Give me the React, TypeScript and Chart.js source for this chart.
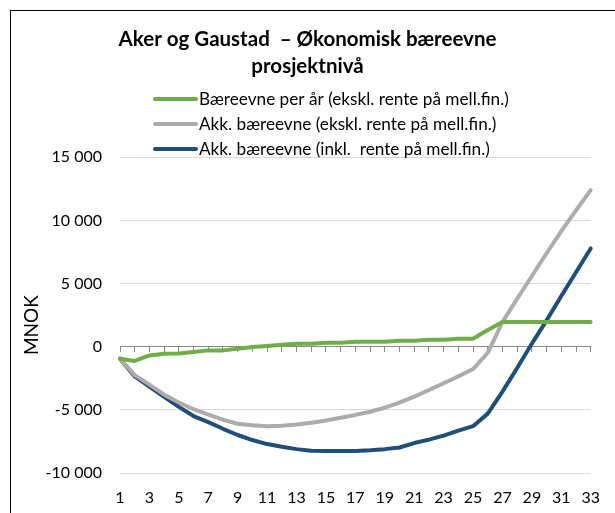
import React, { useEffect, useRef } from 'react';
import { Chart, registerables } from 'chart.js';

Chart.register(...registerables);

const FONT = 'Lato, "Open Sans", "DejaVu Sans", sans-serif';

const categories = ['1', '2', '3', '4', '5', '6', '7', '8', '9', '10', '11', '12', '13', '14', '15', '16', '17', '18', '19', '20', '21', '22', '23', '24', '25', '26', '27', '28', '29', '30', '31', '32', '33'];

const perYear = [-950, -1130, -690, -560, -530, -420, -290, -290, -160, -30, 50, 150, 240, 240, 320, 320, 400, 400, 400, 480, 480, 560, 560, 630, 630, 1330, 1960, 1960, 1960, 1960, 1960, 1960, 1960];

const accExcl = [-950, -2250, -3000, -3800, -4420, -4950, -5380, -5780, -6100, -6210, -6290, -6260, -6160, -6020, -5840, -5620, -5400, -5150, -4830, -4420, -3960, -3430, -2890, -2350, -1770, -480, 1950, 3800, 5600, 7400, 9150, 10800, 12400];

const accIncl = [-950, -2350, -3160, -3960, -4760, -5490, -5970, -6500, -6990, -7390, -7710, -7920, -8110, -8240, -8250, -8250, -8250, -8200, -8110, -7980, -7630, -7360, -7040, -6640, -6290, -5300, -3560, -1690, 250, 2090, 4010, 5900, 7780];

const seriesNames = [
  'Bæreevne per år (ekskl. rente på mell.fin.)',
  'Akk. bæreevne (ekskl. rente på mell.fin.)',
  'Akk. bæreevne (inkl.  rente på mell.fin.)',
];

const titleLines = ['Aker og Gaustad  – Økonomisk bæreevne', 'prosjektnivå'];
const yTitle = 'MNOK';
const yMin = -10000;
const yMax = 15000;
const yStep = 5000;

function fmt(v: number): string {
  const s = Math.abs(v).toString().replace(/\B(?=(\d{3})+(?!\d))/g, ' ');
  return (v < 0 ? '-' : '') + s;
}

const stackedLegend = {
  id: 'stackedLegend',
  afterDraw(chart: any) {
    const ctx = chart.ctx;
    ctx.save();
    ctx.font = `17.2px ${FONT}`;
    ctx.textBaseline = 'middle';
    ctx.textAlign = 'left';
    const rows = [99, 124, 149];
    chart.data.datasets.forEach((ds: any, i: number) => {
      const y = rows[i];
      ctx.strokeStyle = ds.borderColor;
      ctx.lineWidth = 4;
      ctx.lineCap = 'round';
      ctx.beginPath();
      ctx.moveTo(155, y);
      ctx.lineTo(196, y);
      ctx.stroke();
      ctx.fillStyle = '#000';
      ctx.fillText(ds.label, 199, y);
    });
    // y axis title
    const area = chart.chartArea;
    ctx.save();
    ctx.translate(32, (area.top + area.bottom) / 2 + 10);
    ctx.rotate(-Math.PI / 2);
    ctx.textAlign = 'center';
    ctx.font = `19px ${FONT}`;
    ctx.fillText(yTitle, 0, 0);
    ctx.restore();
    ctx.restore();
  },
};

export default function App() {
  const ref = useRef<HTMLCanvasElement | null>(null);

  useEffect(() => {
    if (!ref.current) return;
    const lineStyle = {
      borderWidth: 4,
      pointRadius: 0,
      pointHoverRadius: 0,
      tension: 0,
      fill: false,
      borderCapStyle: 'round' as const,
      borderJoinStyle: 'round' as const,
    };
    const chart = new Chart(ref.current, {
      type: 'line',
      data: {
        labels: categories,
        datasets: [
          { label: seriesNames[0], data: perYear, borderColor: '#70ad47', backgroundColor: '#70ad47', ...lineStyle },
          { label: seriesNames[1], data: accExcl, borderColor: '#afabab', backgroundColor: '#afabab', ...lineStyle },
          { label: seriesNames[2], data: accIncl, borderColor: '#1f4e79', backgroundColor: '#1f4e79', ...lineStyle },
        ],
      },
      options: {
        animation: false,
        responsive: false,
        maintainAspectRatio: false,
        layout: { padding: { left: 0, right: 0, top: 0, bottom: 0 } },
        plugins: {
          legend: { display: false },
          tooltip: { enabled: false },
          title: {
            display: true,
            text: titleLines,
            color: '#000',
            font: { family: FONT, size: 20.5, weight: 'bold', lineHeight: 1.3 },
            padding: { top: 26, bottom: 78 },
          },
        },
        scales: {
          x: {
            type: 'category',
            position: 'bottom',
            grid: { display: false, drawTicks: false, tickLength: 0 },
            border: { display: false },
            ticks: {
              autoSkip: false,
              maxRotation: 0,
              minRotation: 0,
              padding: 15,
              color: '#000',
              font: { family: FONT, size: 16 },
              callback: (_v: any, i: number) => (i % 2 === 0 ? categories[i] : ''),
            },
            afterFit: (scale: any) => {
              scale.height = 40;
            },
          },
          x2: {
            type: 'category',
            position: { y: 0 },
            grid: { display: true, drawOnChartArea: false, drawTicks: true, tickLength: 5, color: '#868686' },
            border: { display: true, color: '#868686', width: 1 },
            ticks: { display: false },
          },
          y: {
            type: 'linear',
            position: 'left',
            min: yMin,
            max: yMax,
            grid: { color: '#d9d9d9', drawTicks: false, tickLength: 0 },
            border: { display: false },
            ticks: {
              stepSize: yStep,
              padding: 18,
              color: '#000',
              font: { family: FONT, size: 16 },
              callback: (v: any) => fmt(Number(v)),
            },
            afterFit: (scale: any) => {
              scale.width = 120;
            },
          },
          yRight: {
            type: 'linear',
            position: 'right',
            min: yMin,
            max: yMax,
            grid: { display: false, drawTicks: false },
            border: { display: false },
            ticks: { display: false },
            afterFit: (scale: any) => {
              scale.width = 19;
            },
          },
        },
      },
      plugins: [stackedLegend],
    });
    return () => chart.destroy();
  }, []);

  return (
    <div style={{ position: 'fixed', left: 0, top: 0, width: 615, height: 513, background: '#fff' }}>
      <canvas ref={ref} width={615} height={513} style={{ display: 'block', width: 615, height: 513 }} />
      <div
        style={{
          position: 'absolute',
          left: 10,
          top: 10,
          width: 620,
          height: 520,
          borderLeft: '1px solid #000',
          borderTop: '1px solid #000',
          pointerEvents: 'none',
        }}
      />
    </div>
  );
}
